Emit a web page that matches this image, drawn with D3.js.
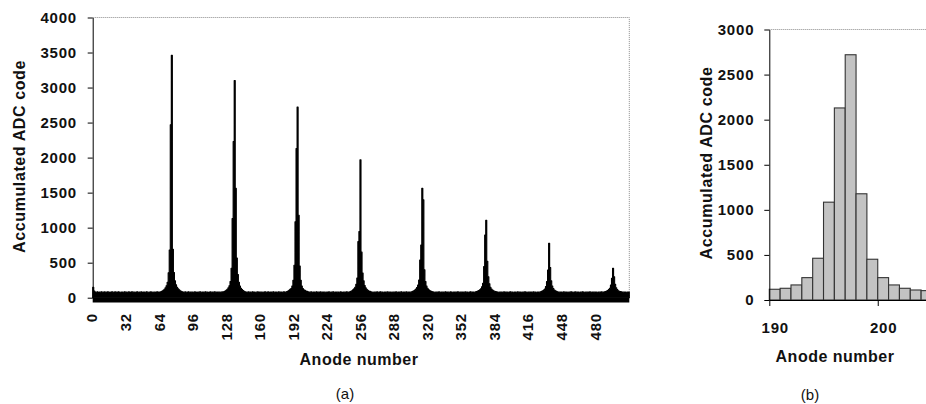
<!DOCTYPE html>
<html>
<head>
<meta charset="utf-8">
<script src="https://cdn.jsdelivr.net/npm/d3@7"></script>
<style>
  body { margin: 0; background: #fff; }
  svg { display: block; font-family: "Liberation Sans", Arial, sans-serif; }
  .tick text { fill: #111; }
</style>
</head>
<body>
<svg id="chart" width="926" height="404"></svg>
<script>
// panel (a): accumulated ADC code for each of the 512 anodes
const counts = [
  150, 95, 80, 78, 84, 76, 82, 79, 85, 77, 81, 83, 78, 80, 86, 79, 75, 82, 84, 77, 80, 83, 79, 76, 85, 81, 78, 82, 80, 77, 84, 79,
  81, 78, 83, 80, 76, 84, 79, 82, 77, 80, 85, 78, 81, 79, 83, 76, 80, 82, 78, 84, 79, 77, 81, 83, 80, 78, 82, 79, 76, 84, 80, 81,
  82, 88, 95, 105, 120, 140, 170, 220, 355, 680, 2470, 3460, 690, 360, 240, 185, 150, 128, 112, 100, 92, 86, 81, 79, 83, 78, 80, 84, 77, 81, 79, 82,
  78, 83, 80, 76, 82, 79, 85, 77, 81, 80, 78, 84, 79, 82, 76, 80, 83, 78, 81, 79, 84, 77, 80, 82, 79, 81, 78, 83, 80, 88, 95, 105,
  120, 140, 170, 230, 420, 1130, 2230, 3100, 1560, 565, 330, 220, 165, 135, 115, 102, 92, 86, 80, 78, 83, 79, 81, 77, 84, 80, 82, 78, 79, 83, 80, 81,
  79, 82, 77, 80, 84, 78, 81, 83, 76, 80, 82, 79, 85, 78, 80, 81, 77, 83, 79, 82, 80, 78, 84, 81, 79, 88, 95, 104, 119, 130, 167, 248,
  463, 1085, 2130, 2720, 1178, 452, 248, 167, 130, 111, 104, 96, 90, 86, 81, 79, 83, 78, 80, 82, 77, 84, 80, 79, 81, 83, 78, 80, 82, 79, 77, 81,
  80, 83, 78, 81, 79, 84, 77, 80, 82, 79, 81, 78, 83, 80, 76, 82, 79, 81, 84, 78, 80, 86, 92, 100, 112, 128, 150, 190, 280, 800, 946, 1967,
  650, 353, 240, 175, 140, 120, 106, 96, 90, 85, 80, 78, 82, 79, 81, 83, 77, 80, 84, 79, 81, 78, 82, 80, 79, 83, 77, 81, 80, 78, 82, 79,
  81, 83, 78, 80, 82, 79, 84, 77, 80, 81, 79, 83, 78, 82, 80, 79, 85, 90, 97, 108, 122, 145, 180, 253, 539, 753, 1563, 1396, 400, 230, 165, 135,
  115, 103, 94, 88, 84, 80, 78, 82, 79, 81, 83, 77, 80, 79, 82, 78, 84, 80, 81, 79, 77, 83, 80, 78, 82, 81, 79, 80, 84, 78, 81, 79,
  82, 80, 78, 83, 79, 81, 77, 80, 84, 79, 82, 80, 78, 84, 88, 94, 102, 112, 128, 155, 206, 443, 896, 1104, 520, 300, 200, 150, 125, 110, 100, 92,
  87, 83, 80, 78, 82, 79, 81, 77, 83, 80, 79, 82, 78, 80, 84, 79, 81, 77, 80, 82, 78, 83, 79, 81, 80, 77, 82, 79, 84, 80, 78, 81,
  79, 82, 80, 78, 83, 79, 81, 77, 80, 82, 79, 85, 90, 97, 108, 125, 160, 229, 396, 777, 430, 240, 165, 130, 110, 98, 90, 85, 81, 79, 82, 80,
  78, 83, 79, 81, 80, 77, 82, 79, 84, 80, 78, 81, 83, 79, 80, 82, 77, 81, 79, 84, 80, 78, 82, 79, 81, 80, 83, 77, 80, 82, 79, 81,
  80, 78, 82, 79, 81, 83, 79, 80, 84, 88, 94, 102, 115, 135, 180, 277, 420, 300, 190, 140, 115, 100, 92, 87, 84, 81, 79, 82, 80, 78, 81, 80
];
const xTicksA = [0, 32, 64, 96, 128, 160, 192, 224, 256, 288, 320, 352, 384, 416, 448, 480];
const yTicksA = [0, 500, 1000, 1500, 2000, 2500, 3000, 3500, 4000];

// panel (b): close-up around anode 197
const zoomAnodes = [190, 191, 192, 193, 194, 195, 196, 197, 198, 199, 200, 201, 202, 203, 204];
const zoomCounts = [119, 130, 167, 248, 463, 1085, 2130, 2720, 1178, 452, 248, 167, 130, 111, 104];
const xTicksB = [190, 200];
const yTicksB = [0, 500, 1000, 1500, 2000, 2500, 3000];

const svg = d3.select('#chart');
const fmt = d3.format('d');

// ---------- panel (a) ----------
const xa = d3.scaleLinear().domain([0, counts.length]).range([92.7, 629.3]);
const ya = d3.scaleLinear().domain([0, 4000]).range([297.7, 17.5]);

const ga = svg.append('g');

// grey dotted frame (top + right)
ga.append('path')
    .attr('d', `M${xa(0)},${ya(4000)}H${xa(counts.length)}V${ya(0)}`)
    .attr('fill', 'none')
    .attr('stroke', '#8a8a8a')
    .attr('stroke-width', 1)
    .attr('stroke-dasharray', '1,1');

// filled spectrum, one step per anode
const stepData = counts.concat([counts[counts.length - 1]]);
const area = d3.area()
    .x((d, i) => xa(i))
    .y0(ya(0))
    .y1(d => ya(d))
    .curve(d3.curveStepAfter);

ga.append('path')
    .datum(stepData)
    .attr('d', area)
    .attr('fill', '#000')
    .attr('stroke', '#000')
    .attr('stroke-width', 1.1)
    .attr('stroke-linejoin', 'round');

// heavy category axis line
ga.append('rect')
    .attr('x', xa(0))
    .attr('y', ya(0))
    .attr('width', xa(counts.length) - xa(0))
    .attr('height', 4.8)
    .attr('fill', '#000');

// y axis
const yAxisA = ga.append('g')
    .attr('transform', `translate(${xa(0)},0)`)
    .call(d3.axisLeft(ya).tickValues(yTicksA).tickFormat(fmt)
        .tickSize(5).tickSizeOuter(0).tickPadding(10.7));
yAxisA.select('.domain').attr('stroke', '#000');
yAxisA.selectAll('text')
    .attr('font-size', 15).attr('font-weight', 'bold')
    .attr('letter-spacing', 0.8);

// x axis labels, rotated
const xAxisA = ga.append('g')
    .attr('transform', `translate(0,${ya(0)})`)
    .call(d3.axisBottom(xa).tickValues(xTicksA).tickFormat(fmt).tickSize(0));
xAxisA.select('.domain').remove();
xAxisA.selectAll('text')
    .attr('transform', 'rotate(-90)')
    .attr('x', -15.3)
    .attr('y', -1)
    .attr('dy', '0.35em')
    .attr('text-anchor', 'end')
    .attr('font-size', 15).attr('font-weight', 'bold')
    .attr('letter-spacing', 0.8);

// titles
ga.append('text')
    .attr('transform', 'translate(25,156.5) rotate(-90)')
    .attr('text-anchor', 'middle')
    .attr('font-size', 16).attr('font-weight', 'bold')
    .attr('letter-spacing', 0.6)
    .attr('fill', '#111')
    .text('Accumulated ADC code');

ga.append('text')
    .attr('x', 359).attr('y', 364.5)
    .attr('text-anchor', 'middle')
    .attr('font-size', 16).attr('font-weight', 'bold')
    .attr('letter-spacing', 0.5)
    .attr('fill', '#111')
    .text('Anode number');

ga.append('text')
    .attr('x', 345).attr('y', 398.5)
    .attr('text-anchor', 'middle')
    .attr('font-size', 15)
    .attr('fill', '#111')
    .text('(a)');

// ---------- panel (b) ----------
const xb = d3.scaleLinear().domain([190, 204.45]).range([769.3, 926]);
const yb = d3.scaleLinear().domain([0, 3000]).range([300, 29.5]);

const gb = svg.append('g');

gb.append('line')
    .attr('x1', xb(190)).attr('x2', 926)
    .attr('y1', yb(3000)).attr('y2', yb(3000))
    .attr('stroke', '#8a8a8a')
    .attr('stroke-dasharray', '1,1');

gb.selectAll('rect.bar')
    .data(zoomAnodes)
    .join('rect')
    .attr('class', 'bar')
    .attr('x', d => xb(d))
    .attr('y', (d, i) => yb(zoomCounts[i]))
    .attr('width', d => xb(d + 1) - xb(d))
    .attr('height', (d, i) => yb(0) - yb(zoomCounts[i]))
    .attr('fill', '#c3c3c3')
    .attr('stroke', '#333')
    .attr('stroke-width', 1.1);

const yAxisB = gb.append('g')
    .attr('transform', `translate(${xb(190)},0)`)
    .call(d3.axisLeft(yb).tickValues(yTicksB).tickFormat(fmt)
        .tickSize(5).tickSizeOuter(0).tickPadding(10));
yAxisB.select('.domain').attr('stroke', '#000');
yAxisB.selectAll('text')
    .attr('font-size', 15).attr('font-weight', 'bold')
    .attr('letter-spacing', 0.8);

const xAxisB = gb.append('g')
    .attr('transform', `translate(0,${yb(0)})`)
    .call(d3.axisBottom(xb).tickValues(xTicksB).tickFormat(fmt)
        .tickSize(6).tickSizeOuter(0).tickPadding(0));
xAxisB.select('.domain').attr('stroke', '#000');
xAxisB.selectAll('text')
    .attr('x', (xb(191) - xb(190)) / 2)
    .attr('y', 33)
    .attr('dy', 0)
    .attr('font-size', 15).attr('font-weight', 'bold')
    .attr('letter-spacing', 0.8);

gb.append('text')
    .attr('transform', 'translate(712,163) rotate(-90)')
    .attr('text-anchor', 'middle')
    .attr('font-size', 16).attr('font-weight', 'bold')
    .attr('letter-spacing', 0.6)
    .attr('fill', '#111')
    .text('Accumulated ADC code');

gb.append('text')
    .attr('x', 835).attr('y', 362)
    .attr('text-anchor', 'middle')
    .attr('font-size', 16).attr('font-weight', 'bold')
    .attr('letter-spacing', 0.5)
    .attr('fill', '#111')
    .text('Anode number');

gb.append('text')
    .attr('x', 810).attr('y', 400)
    .attr('text-anchor', 'middle')
    .attr('font-size', 15)
    .attr('fill', '#111')
    .text('(b)');
</script>
</body>
</html>
